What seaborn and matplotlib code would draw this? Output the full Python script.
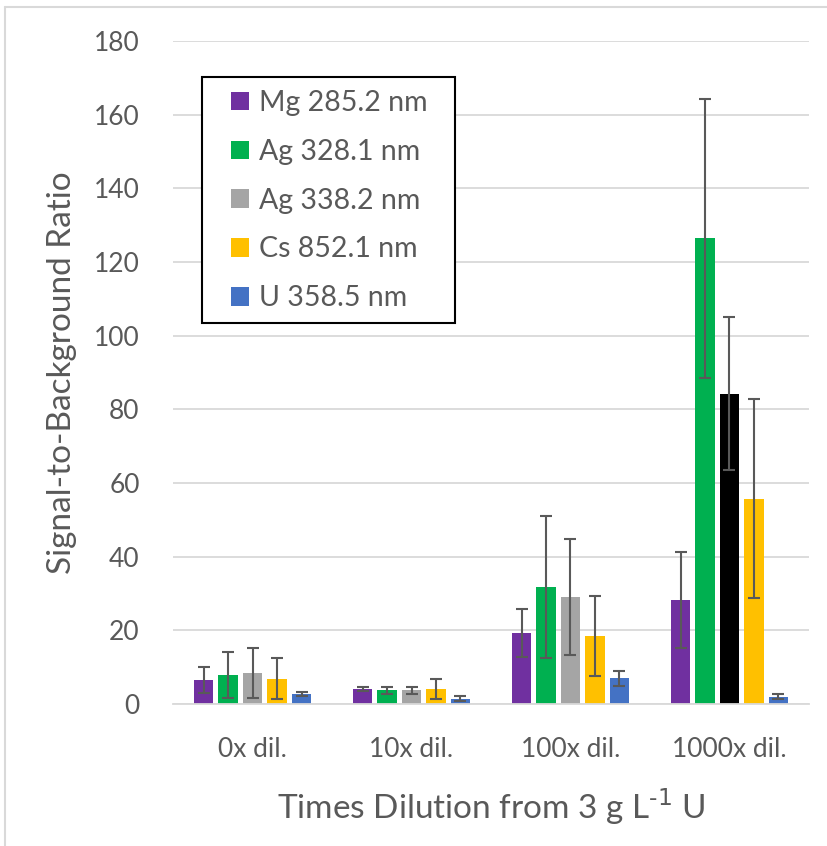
import matplotlib
matplotlib.use("Agg")
import matplotlib.pyplot as plt
from matplotlib.patches import Patch, Rectangle
import numpy as np
import pandas as pd
import seaborn as sns

# Dilution levels and emission lines
dilutions = ["0x dil.", "10x dil.", "100x dil.", "1000x dil."]
lines = ["Mg 285.2 nm", "Ag 328.1 nm", "Ag 338.2 nm", "Cs 852.1 nm", "U 358.5 nm"]

# Signal-to-background ratio, one list per emission line (ordered by dilution)
mg_285 = [6.5, 4.1, 19.3, 28.2]
ag_328 = [7.9, 3.7, 31.7, 126.4]
ag_338 = [8.5, 3.7, 29.1, 84.3]
cs_852 = [6.9, 4.1, 18.4, 55.7]
u_358 = [2.7, 1.5, 7.0, 2.0]

# Standard deviations
mg_285_err = [3.6, 0.45, 6.5, 13.0]
ag_328_err = [6.2, 1.0, 19.3, 37.9]
ag_338_err = [6.8, 0.85, 15.8, 20.8]
cs_852_err = [5.6, 2.6, 10.8, 27.0]
u_358_err = [0.6, 0.65, 2.0, 0.65]

colors = ["#7030A0", "#00B050", "#A5A5A5", "#FFC000", "#4472C4"]
text_color = "#595959"

values = [mg_285, ag_328, ag_338, cs_852, u_358]
errors = [mg_285_err, ag_328_err, ag_338_err, cs_852_err, u_358_err]

df = pd.DataFrame(
    [(d, ln, v) for ln, vals in zip(lines, values) for d, v in zip(dilutions, vals)],
    columns=["dilution", "line", "sbr"],
)

sns.set_theme(style="white")
plt.rcParams["font.family"] = ["Lato", "DejaVu Sans"]
plt.rcParams["axes.unicode_minus"] = False

fig = plt.figure(figsize=(8.28, 8.46), dpi=100)
ax = fig.add_axes([0.209, 0.1678, 0.768, 0.7837])

sns.barplot(
    data=df, x="dilution", y="sbr", hue="line",
    order=dilutions, hue_order=lines, palette=colors,
    width=0.77, gap=0.2, errorbar=None, legend=False, ax=ax,
    saturation=1, linewidth=0,
)

# The 1000x Ag 338.2 nm bar is drawn in black
ax.containers[2][3].set_facecolor("black")

# Error bars at each bar centre
for cont, errs, vals in zip(ax.containers, errors, values):
    xs = [b.get_x() + b.get_width() / 2 for b in cont]
    ax.errorbar(xs, vals, yerr=errs, fmt="none", ecolor=text_color,
                elinewidth=1.5, capsize=4.5, capthick=1.5, zorder=5)

ax.set_ylim(0, 180)
ax.set_yticks(np.arange(0, 181, 20))
ax.set_xlim(-0.5, 3.5)
ax.yaxis.grid(True, color="#D9D9D9", linewidth=1.3)
ax.set_axisbelow(True)
for side in ["left", "right", "top"]:
    ax.spines[side].set_visible(False)
ax.spines["bottom"].set_color("#D9D9D9")
ax.spines["bottom"].set_linewidth(1.3)
ax.tick_params(axis="both", length=0, labelsize=19, colors=text_color)
ax.tick_params(axis="y", pad=24)
ax.tick_params(axis="x", pad=24)

ax.set_ylabel("Signal-to-Background Ratio", fontsize=24, color=text_color, labelpad=12)
ax.set_xlabel("Times Dilution from 3 g L$^{\\text{-1}}$ U", fontsize=24,
              color=text_color, labelpad=17)

# Legend box with generous side padding, entries placed inside it
ax.add_patch(Rectangle((0.0456, 0.5747), 0.3978, 0.371, transform=ax.transAxes,
                       facecolor="white", edgecolor="black", linewidth=1.5,
                       zorder=6))
handles = [Patch(facecolor=c, edgecolor="none") for c in colors]
leg = ax.legend(
    handles, lines, loc="upper left", bbox_to_anchor=(0.0912, 0.926),
    borderaxespad=0, borderpad=0, fontsize=20.5, frameon=False,
    handlelength=0.63, handleheight=0.63,
    handletextpad=0.35, labelspacing=0.8,
)
leg.set_zorder(7)
for t in leg.get_texts():
    t.set_color(text_color)

# Light chart-area border on the left and top
fig.add_artist(plt.Line2D([0.006, 0.006], [0, 0.992], color="#D9D9D9", lw=1.5))
fig.add_artist(plt.Line2D([0.006, 1.0], [0.992, 0.992], color="#D9D9D9", lw=1.5))

fig.savefig("out.png", dpi=100)
